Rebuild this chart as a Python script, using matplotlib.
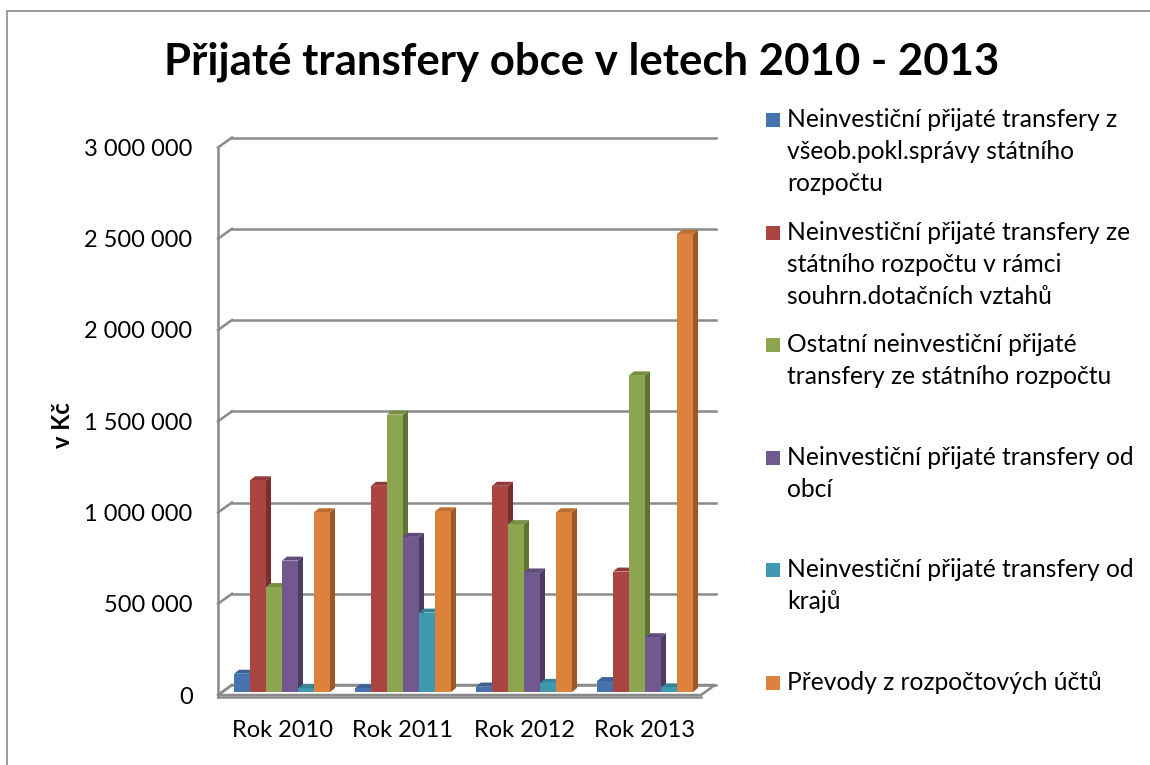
import numpy as np
import matplotlib
matplotlib.use("Agg")
from matplotlib import pyplot as plt
from matplotlib.patches import Polygon, Rectangle

plt.rcParams['font.family'] = ['Lato', 'DejaVu Sans']

# data
years = ["Rok 2010", "Rok 2011", "Rok 2012", "Rok 2013"]
series_names = [
    "Neinvestiční přijaté transfery z\nvšeob.pokl.správy státního\nrozpočtu",
    "Neinvestiční přijaté transfery ze\nstátního rozpočtu v rámci\nsouhrn.dotačních vztahů",
    "Ostatní neinvestiční přijaté\ntransfery ze státního rozpočtu",
    "Neinvestiční přijaté transfery od\nobcí",
    "Neinvestiční přijaté transfery od\nkrajů",
    "Převody z rozpočtových účtů",
]
zs_pokl = [100000, 20000, 30000, 60000]
ze_sr = [1160000, 1130000, 1130000, 660000]
ostatni_sr = [575000, 1520000, 920000, 1735000]
od_obci = [720000, 850000, 655000, 300000]
od_kraju = [20000, 435000, 50000, 25000]
prevody = [985000, 990000, 985000, 2510000]
series = [zs_pokl, ze_sr, ostatni_sr, od_obci, od_kraju, prevody]

yticks = [0, 500000, 1000000, 1500000, 2000000, 2500000, 3000000]

face = ['#4673AD', '#AB4542', '#8BA64F', '#71598F', '#3F9AB1', '#DC823C']
side = ['#2F4F78', '#782F2D', '#5F7334', '#4D3C62', '#2A6C7C', '#9B5728']
top = ['#3C6295', '#913A38', '#778F42', '#604C7A', '#368497', '#BD6F33']

W, H = 1150, 765
fig = plt.figure(figsize=(W / 100, H / 100), dpi=100)

# pixel geometry of the plot (Excel-like 3D column chart)
px0, py0 = 282, 695          # pixel of category 0 / value 0 on the front plane
sx, sy = 121.0, 182.5e-6     # pixels per category, pixels per unit value
axl, axr, axt, axb = 212, 722, 125, 705
ax = fig.add_axes([axl / W, 1 - axb / H, (axr - axl) / W, (axb - axt) / H])
ax.set_xlim((axl - px0) / sx, (axr - px0) / sx)
ax.set_ylim((py0 - axb) / sy, (py0 - axt) / sy)
for s in ax.spines.values():
    s.set_visible(False)

grid_c = '#8A8A8A'
FL = (218 - px0) / sx        # front-left edge
FR = (701 - px0) / sx        # front-right edge
BR = (716 - px0) / sx        # back-right edge
DXW = 14 / sx
DYW = 10 / sy

# floor
floor = Polygon([(FL, 0), (FR, 0), (FR + DXW, DYW), (FL + DXW, DYW)],
                closed=True, facecolor='white', edgecolor=grid_c, lw=1.8, zorder=1)
ax.add_patch(floor)
ax.plot([FL, FR], [-2 / sy, -2 / sy], color=grid_c, lw=1.8, zorder=1)

# back wall gridlines and left wall edge
for t in yticks:
    ax.plot([FL, FL + DXW], [t, t + DYW], color=grid_c, lw=1.8, zorder=1)
    ax.plot([FL + DXW, BR], [t + DYW, t + DYW], color=grid_c, lw=1.8, zorder=1)
ax.plot([FL, FL], [-2 / sy, yticks[-1]], color=grid_c, lw=1.8, zorder=1)

# 3D-looking columns
BW = 16 / sx
BDX = 5 / sx
BDY = 4 / sy
BASE = 3 / sy
n = len(series)
x = np.arange(len(years))
for j, vals in enumerate(series):
    xc = x + (j - (n - 1) / 2) * BW
    ax.bar(xc, vals, width=BW, bottom=BASE, color=face[j], lw=0, zorder=3 + 2 * j)
    for xi, v in zip(xc, vals):
        x0, x1 = xi - BW / 2, xi + BW / 2
        y1 = BASE + v
        ax.add_patch(Polygon([(x1, BASE), (x1 + BDX, BASE + BDY), (x1 + BDX, y1 + BDY), (x1, y1)],
                             closed=True, facecolor=side[j], lw=0, zorder=2 + 2 * j))
        ax.add_patch(Polygon([(x0, y1), (x0 + BDX, y1 + BDY), (x1 + BDX, y1 + BDY), (x1, y1)],
                             closed=True, facecolor=top[j], lw=0, zorder=2 + 2 * j))

ax.set_yticks(yticks)
ax.set_yticklabels([f"{t:,.0f}".replace(",", " ") for t in yticks], fontsize=17)
ax.set_xticks(x)
ax.set_xticklabels(years, fontsize=17)
ax.tick_params(axis='y', length=0, pad=14)
ax.tick_params(axis='x', length=0, pad=11)

# title and axis label
fig.text(582 / W, 1 - 75 / H, "Přijaté transfery obce v letech 2010 - 2013",
         ha='center', va='baseline', fontsize=31.5, fontweight='bold')
fig.text(62 / W, 1 - 425 / H, "v Kč", rotation=90, ha='center', va='center',
         fontsize=17, fontweight='bold')

# legend
for j, name in enumerate(series_names):
    base = 127 + 112.6 * j
    fig.add_artist(Rectangle((766 / W, 1 - (base) / H), 14 / W, 14 / H,
                             transform=fig.transFigure, facecolor=face[j], lw=0))
    for k, line in enumerate(name.split("\n")):
        fig.text(787 / W, 1 - (base + 32 * k) / H, line, ha='left', va='baseline', fontsize=17.7)

# chart area border
fig.add_artist(Rectangle((7 / W, -0.1), 1.2, 1.1 - 11 / H, transform=fig.transFigure,
                         fill=False, edgecolor='#8A8A8A', lw=1.2))

fig.savefig("out.png", dpi=100)
